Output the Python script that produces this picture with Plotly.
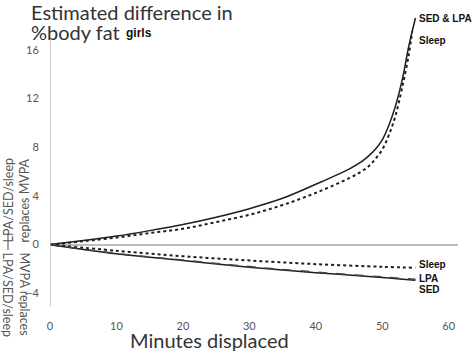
import plotly.graph_objects as go

# ---- data ----
minutes_up = [0, 5, 10, 15, 20, 25, 30, 35, 40, 45, 47, 48, 49, 50, 51, 52, 53, 54, 55]
sed_lpa_up = [0, 0.33, 0.7, 1.15, 1.65, 2.25, 2.95, 3.8, 4.95, 6.2, 6.85, 7.3, 7.85, 8.6, 9.8, 11.4, 13.5, 16.3, 18.6]
minutes_sleep_up = [0, 5, 10, 15, 20, 25, 30, 35, 40, 45, 47, 48, 49, 50, 51, 52, 53, 54, 54.5]
sleep_up = [0, 0.28, 0.58, 0.95, 1.3, 1.85, 2.45, 3.25, 4.25, 5.45, 6.05, 6.45, 7.05, 7.8, 9.0, 10.6, 12.9, 15.6, 17.5]

minutes_down = [0, 10, 20, 30, 40, 50, 55]
sleep_down = [0, -0.5, -0.95, -1.3, -1.6, -1.82, -1.9]
lpa_down = [0, -0.72, -1.27, -1.8, -2.25, -2.65, -2.85]
sed_down = [0, -0.75, -1.3, -1.85, -2.3, -2.7, -2.93]

x_ticks = [0, 10, 20, 30, 40, 50, 60]
y_ticks = [-4, 0, 4, 8, 12, 16]

W, H = 472, 351
ML, MR, MT, MB = 50, 14, 7, 43
X_RANGE = [0, 61.4]
Y_RANGE = [-5.2, 19.5]


def px(x):
    return (x - ML) / (W - ML - MR)


def py(y):
    return (H - MB - y) / (H - MT - MB)


DARK = "#1e1e1e"
GREY = "#bdbdbd"
TXT = "#555555"
FONT = "Lato"

fig = go.Figure()
fig.add_trace(go.Scatter(x=minutes_up, y=sed_lpa_up, mode="lines",
                         line=dict(color=DARK, width=1.5), line_shape="spline"))
fig.add_trace(go.Scatter(x=minutes_sleep_up, y=sleep_up, mode="lines",
                         line=dict(color=DARK, width=2, dash="dot"), line_shape="spline"))
fig.add_trace(go.Scatter(x=minutes_down, y=sleep_down, mode="lines",
                         line=dict(color=DARK, width=2, dash="dot"), line_shape="spline"))
fig.add_trace(go.Scatter(x=minutes_down, y=sed_down, mode="lines",
                         line=dict(color=DARK, width=1.5), line_shape="spline"))
fig.add_trace(go.Scatter(x=minutes_down, y=lpa_down, mode="lines",
                         line=dict(color="#444", width=1.5, dash="dash"), line_shape="spline"))

# y axis line (partial) and separator bar
fig.add_shape(type="line", xref="x", yref="y", x0=0, x1=0, y0=-5.1, y1=16.8,
              line=dict(color=GREY, width=1.5))
fig.add_shape(type="line", xref="paper", yref="paper", x0=px(8), x1=px(8),
              y0=py(233), y1=py(250), line=dict(color="#666", width=1.2))

ann = []
ann.append(dict(text="Estimated difference in", x=px(29), y=py(12),
                xanchor="left", yanchor="middle",
                font=dict(family=FONT, size=20, color="#333")))
ann.append(dict(text="%body fat", x=px(29), y=py(32),
                xanchor="left", yanchor="middle",
                font=dict(family=FONT, size=20, color="#333")))
ann.append(dict(text="<b>girls</b>", x=px(124), y=py(33), xanchor="left", yanchor="middle",
                font=dict(family="Liberation Sans", size=12, color="#111")))
ann.append(dict(text="LPA/SED/sleep<br>replaces MVPA", x=px(16), y=py(245),
                xanchor="center", yanchor="bottom", align="left", textangle=-90,
                font=dict(family=FONT, size=12.5, color=TXT)))
ann.append(dict(text="MVPA replaces<br>LPA/SED/sleep", x=px(16), y=py(250),
                xanchor="center", yanchor="top", align="left", textangle=90,
                font=dict(family=FONT, size=12.5, color=TXT)))
ann.append(dict(text="Minutes displaced", x=px(209), y=py(340), xanchor="center", yanchor="middle",
                font=dict(family=FONT, size=20, color="#333")))
lab_font = dict(family="Liberation Sans", size=10, color="#111")
for t, yy in [("<b>SED &amp; LPA</b>", 18), ("<b>Sleep</b>", 40), ("<b>Sleep</b>", 264),
              ("<b>LPA</b>", 278), ("<b>SED</b>", 289)]:
    ann.append(dict(text=t, x=px(417), y=py(yy), xanchor="left", yanchor="middle",
                    font=lab_font))
for a in ann:
    a.update(xref="paper", yref="paper", showarrow=False)

fig.update_layout(
    width=W, height=H, margin=dict(l=ML, r=MR, t=MT, b=MB),
    paper_bgcolor="white", plot_bgcolor="white", showlegend=False,
    annotations=ann,
    xaxis=dict(range=X_RANGE, tickvals=x_ticks, showgrid=False, zeroline=False,
               showline=False, ticks="outside", ticklen=8, tickcolor="rgba(0,0,0,0)",
               tickfont=dict(family=FONT, size=11, color=TXT)),
    yaxis=dict(range=Y_RANGE, tickvals=y_ticks, showgrid=False, zeroline=True,
               zerolinecolor=GREY, zerolinewidth=1.5, showline=False,
               ticks="outside", ticklen=8, tickcolor="rgba(0,0,0,0)",
               tickfont=dict(family=FONT, size=11, color=TXT)),
)

fig.write_html("out.html", config={"displayModeBar": False},
               post_script="document.body.style.margin='0';")
